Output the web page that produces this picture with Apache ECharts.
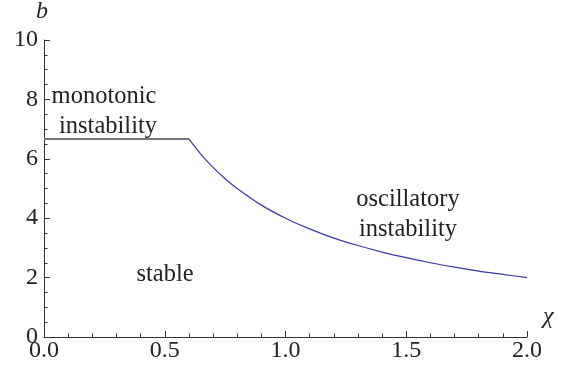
<!DOCTYPE html>
<html>
<head>
<meta charset="utf-8">
<script src="https://cdn.jsdelivr.net/npm/echarts@6/dist/echarts.min.js"></script>
<style>html,body{margin:0;padding:0;background:#fff}#c{width:577px;height:370px}</style>
</head>
<body>
<div id="c"></div>
<script>
// Data
const flatChi = [0.0, 0.6];
const flatB = [6.67, 6.67];
const curveChi = [0.6, 0.65, 0.7, 0.75, 0.8, 0.9, 1.0, 1.1, 1.2, 1.3, 1.4, 1.5, 1.6, 1.7, 1.8, 1.9, 2.0];
const curveB = [6.67, 6.15, 5.71, 5.33, 5.0, 4.44, 4.0, 3.64, 3.33, 3.08, 2.86, 2.67, 2.5, 2.35, 2.22, 2.11, 2.0];
const xTicks = [0.0, 0.5, 1.0, 1.5, 2.0];
const yTicks = [0, 2, 4, 6, 8, 10];
const regionLabels = ['monotonic', 'instability', 'oscillatory', 'instability', 'stable'];

const FAM = 'Times New Roman, Liberation Serif, serif';
const chart = echarts.init(document.getElementById('c'), null, {renderer: 'canvas'});
function axisLabel(extra) {
  return Object.assign({fontFamily: FAM, fontSize: 24, color: '#222'}, extra);
}
const axisLine = {show: true, lineStyle: {color: '#333', width: 1}};
const axisTick = {show: true, inside: true, length: 6, lineStyle: {color: '#333', width: 1}};
chart.setOption({
  animation: false,
  textStyle: {fontFamily: FAM},
  grid: {left: 44, right: 50, top: 40, bottom: 33, containLabel: false},
  xAxis: {
    type: 'value', min: xTicks[0], max: xTicks[xTicks.length - 1], interval: 0.5,
    axisLine: axisLine, axisTick: axisTick, splitLine: {show: false},
    minorTick: {show: true, splitNumber: 5, length: 3.5, lineStyle: {color: '#333', width: 1}},
    axisLabel: axisLabel({margin: 2, formatter: v => v.toFixed(1)})
  },
  yAxis: {
    type: 'value', min: yTicks[0], max: yTicks[yTicks.length - 1], interval: 2,
    axisLine: axisLine, axisTick: axisTick, splitLine: {show: false},
    minorTick: {show: true, splitNumber: 4, length: 3.5, lineStyle: {color: '#333', width: 1}},
    axisLabel: axisLabel({margin: 6})
  },
  series: [
    {type: 'line', data: flatChi.map((x, i) => [x, flatB[i]]), symbol: 'none',
     lineStyle: {color: '#777777', width: 2}},
    {type: 'line', data: curveChi.map((x, i) => [x, curveB[i]]), symbol: 'none', smooth: 0.3,
     lineStyle: {color: '#3a3aa6', width: 1.2}}
  ],
  graphic: [
    {type: 'text', left: 36, top: 0, style: {text: 'b', fontFamily: FAM, fontStyle: 'italic', fontSize: 24, fill: '#222'}},
    {type: 'text', left: 543, top: 305, style: {text: 'χ', fontFamily: FAM, fontStyle: 'italic', fontSize: 24, fill: '#222'}},
    {type: 'text', x: 104, y: 97, style: {text: regionLabels[0], fontFamily: FAM, fontSize: 24.5, fill: '#222', align: 'center', verticalAlign: 'middle'}},
    {type: 'text', x: 108, y: 127, style: {text: regionLabels[1], fontFamily: FAM, fontSize: 24.5, fill: '#222', align: 'center', verticalAlign: 'middle'}},
    {type: 'text', x: 408, y: 200, style: {text: regionLabels[2], fontFamily: FAM, fontSize: 24.5, fill: '#222', align: 'center', verticalAlign: 'middle'}},
    {type: 'text', x: 408, y: 230, style: {text: regionLabels[3], fontFamily: FAM, fontSize: 24.5, fill: '#222', align: 'center', verticalAlign: 'middle'}},
    {type: 'text', x: 165, y: 275, style: {text: regionLabels[4], fontFamily: FAM, fontSize: 24.5, fill: '#222', align: 'center', verticalAlign: 'middle'}}
  ]
});
</script>
</body>
</html>
